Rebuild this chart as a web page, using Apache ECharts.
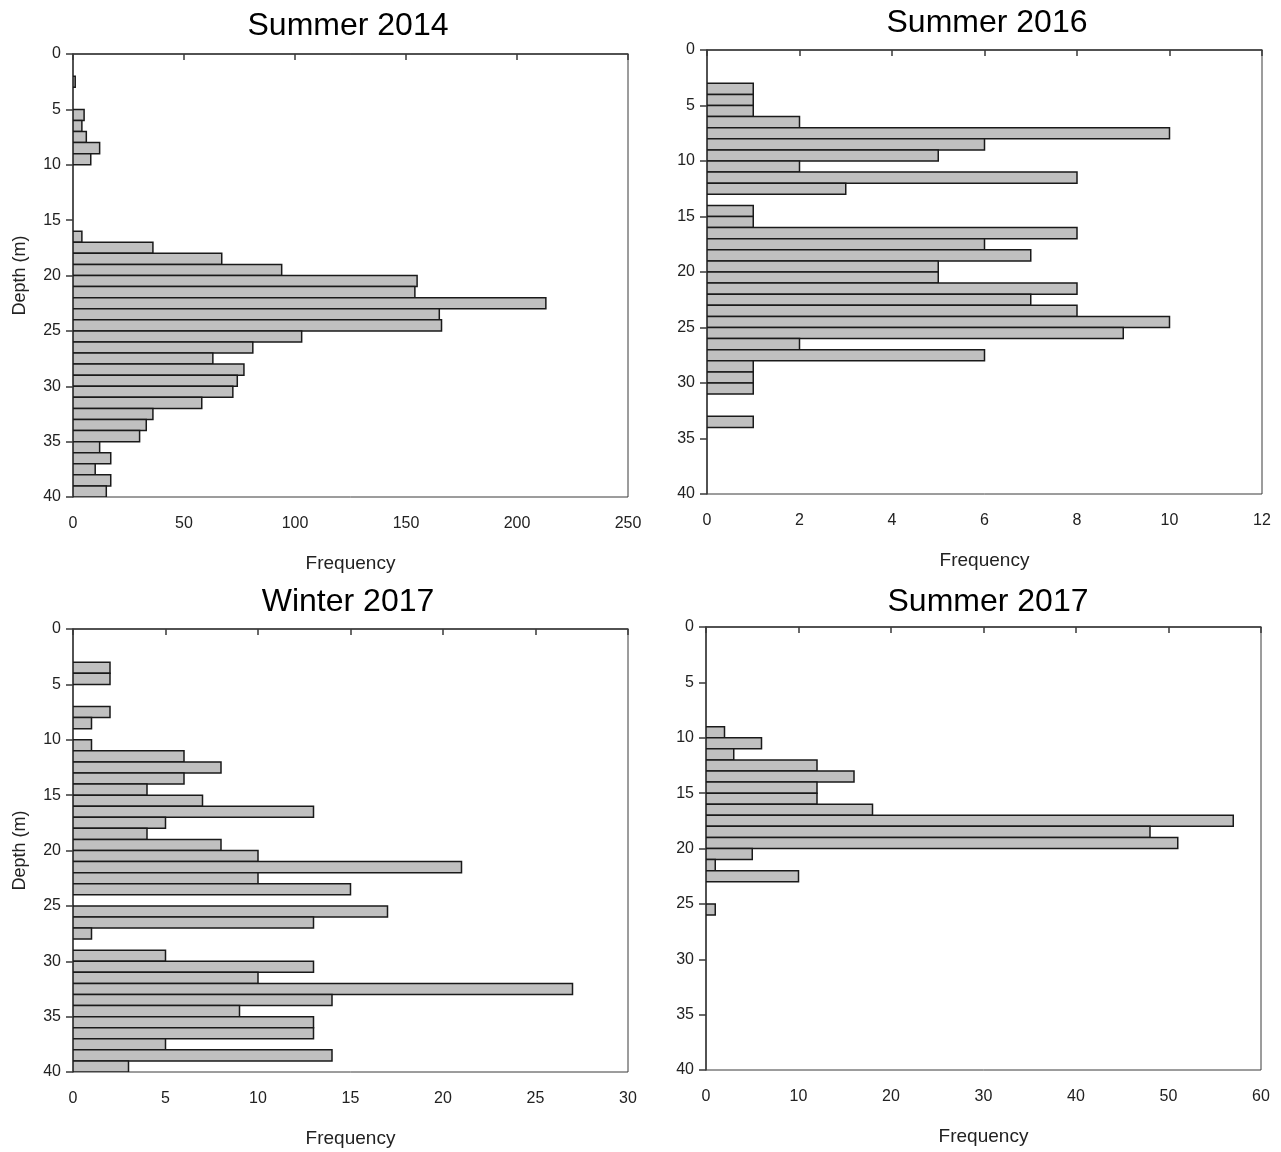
<!DOCTYPE html>
<html>
<head>
<meta charset="utf-8">
<script src="https://cdn.jsdelivr.net/npm/echarts@6/dist/echarts.min.js"></script>
<style>
  html, body { margin: 0; padding: 0; background: #fff; }
  #chart { width: 1281px; height: 1152px; }
</style>
</head>
<body>
<div id="chart"></div>
<script>
// Depth bins (upper edge of each 1 m bin), 0–39 m
const depthBins = Array.from({ length: 40 }, (_, i) => i);

// Frequency of observations per 1 m depth bin
const summer2014 = [0,0,1,0,0,5,4,6,12,8, 0,0,0,0,0,0,4,36,67,94, 155,154,213,165,166,103,81,63,77,74, 72,58,36,33,30,12,17,10,17,15];
const summer2016 = [0,0,0,1,1,1,2,10,6,5, 2,8,3,0,1,1,8,6,7,5, 5,8,7,8,10,9,2,6,1,1, 1,0,0,1,0,0,0,0,0,0];
const winter2017 = [0,0,0,2,2,0,0,2,1,0, 1,6,8,6,4,7,13,5,4,8, 10,21,10,15,0,17,13,1,0,5, 13,10,27,14,9,13,13,5,14,3];
const summer2017 = [0,0,0,0,0,0,0,0,0,2, 6,3,12,16,12,12,18,57,48,51, 5,1,10,0,0,1,0,0,0,0, 0,0,0,0,0,0,0,0,0,0];

const panelTitles = ['Summer 2014', 'Summer 2016', 'Winter 2017', 'Summer 2017'];
const freqMax = [250, 12, 30, 60];
const freqStep = [50, 2, 5, 10];
const depthTicks = { min: 0, max: 40, interval: 5 };

const series = [summer2014, summer2016, winter2017, summer2017];

const grids = [
  { left: 73,  top: 54,  width: 555, height: 443 },
  { left: 707, top: 50,  width: 555, height: 444 },
  { left: 73,  top: 629, width: 555, height: 443 },
  { left: 706, top: 627, width: 555, height: 443 }
];
const titleAnchors = [[343, 5], [982, 2], [343, 581], [983, 581]];

const lineColor = '#3a3a3a';
const labelFont = "'Liberation Sans Narrow', 'Arial Narrow', 'Liberation Sans', sans-serif";
const regular = "'Liberation Sans', Arial, sans-serif";

function renderBar(params, api) {
  const v = api.value(0);
  const d = api.value(1);
  const a = api.coord([0, d]);
  const b = api.coord([v, d + 1]);
  return {
    type: 'rect',
    shape: { x: a[0], y: a[1], width: b[0] - a[0], height: b[1] - a[1] },
    style: { fill: '#c0c0c0', stroke: '#1a1a1a', lineWidth: 1.5 }
  };
}

const option = {
  backgroundColor: '#fff',
  animation: false,
  title: panelTitles.map((t, i) => ({
    text: t,
    left: titleAnchors[i][0],
    top: titleAnchors[i][1],
    textAlign: 'center',
    textStyle: { fontFamily: regular, fontSize: 32, fontWeight: 'normal', color: '#000' }
  })),
  grid: grids.map(g => Object.assign({ show: true, borderColor: lineColor, borderWidth: 1, backgroundColor: 'transparent' }, g)),
  xAxis: grids.map((g, i) => ({
    type: 'value',
    gridIndex: i,
    min: 0,
    max: freqMax[i],
    interval: freqStep[i],
    name: 'Frequency',
    nameLocation: 'middle',
    nameGap: 57,
    nameTextStyle: { fontFamily: labelFont, fontSize: 19, color: '#222' },
    axisLine: { show: true, lineStyle: { color: lineColor, width: 1.5 } },
    axisTick: { show: true, inside: false, length: 6, lineStyle: { color: lineColor, width: 1.5 } },
    axisLabel: { fontFamily: labelFont, fontSize: 16, color: '#222', margin: 19 },
    splitLine: { show: false }
  })),
  yAxis: grids.map((g, i) => ({
    type: 'value',
    gridIndex: i,
    inverse: true,
    min: depthTicks.min,
    max: depthTicks.max,
    interval: depthTicks.interval,
    name: i % 2 === 0 ? 'Depth (m)' : '',
    nameLocation: 'middle',
    nameGap: 44,
    nameTextStyle: { fontFamily: regular, fontSize: 18, color: '#222' },
    axisLine: { show: true, lineStyle: { color: lineColor, width: 1.5 } },
    axisTick: { show: true, length: 7, lineStyle: { color: lineColor, width: 1.5 } },
    axisLabel: { fontFamily: labelFont, fontSize: 16, color: '#222', margin: 12 },
    splitLine: { show: false }
  })),
  series: series.map((vals, i) => ({
    type: 'custom',
    xAxisIndex: i,
    yAxisIndex: i,
    renderItem: renderBar,
    clip: true,
    encode: { x: 0, y: 1 },
    data: depthBins.filter(d => vals[d] > 0).map(d => [vals[d], d])
  }))
};

const chart = echarts.init(document.getElementById('chart'), null, { renderer: 'canvas' });
chart.setOption(option);
</script>
</body>
</html>
